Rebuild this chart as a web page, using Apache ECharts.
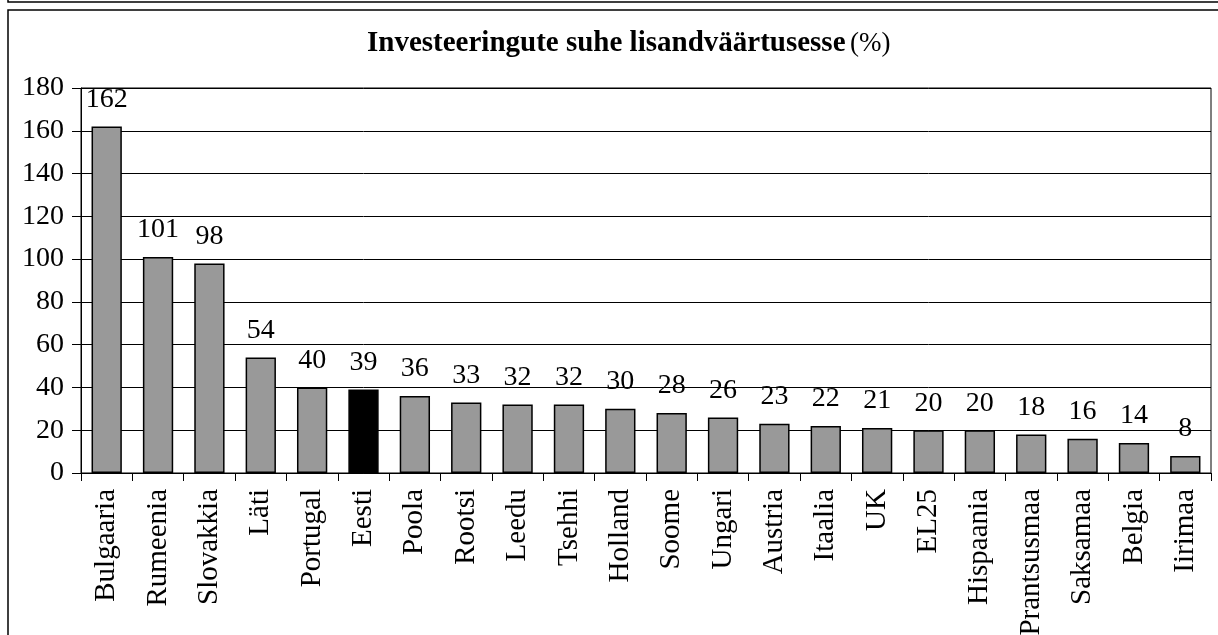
<!DOCTYPE html>
<html>
<head>
<meta charset="utf-8">
<title>Investeeringute suhe lisandväärtusesse</title>
<script src="https://cdn.jsdelivr.net/npm/echarts@6/dist/echarts.min.js"></script>
<style>
  html, body { margin: 0; padding: 0; background: #fff; }
  #chart { width: 1218px; height: 635px; }
</style>
</head>
<body>
<div id="chart"></div>
<script>
// riigid ja väärtused (%)
const countries = ['Bulgaaria', 'Rumeenia', 'Slovakkia', 'Läti', 'Portugal', 'Eesti', 'Poola', 'Rootsi',
  'Leedu', 'Tsehhi', 'Holland', 'Soome', 'Ungari', 'Austria', 'Itaalia', 'UK', 'EL25', 'Hispaania',
  'Prantsusmaa', 'Saksamaa', 'Belgia', 'Iirimaa']
const values = [162, 101, 98, 54, 40, 39, 36, 33, 32, 32, 30, 28, 26, 23, 22, 21, 20, 20, 18, 16, 14, 8]
const highlight = 'Eesti'

const serif = '"Liberation Serif", "Times New Roman", serif'

const chart = echarts.init(document.getElementById('chart'))

const option = {
  animation: false,
  textStyle: { fontFamily: serif, color: '#000' },
  title: {
    text: '{b|Investeeringute suhe lisandväärtusesse} {n|(%)}',
    left: 362,
    top: 24,
    textStyle: {
      rich: {
        b: { fontFamily: serif, fontWeight: 'bold', fontSize: 29, color: '#000' },
        n: { fontFamily: serif, fontWeight: 'normal', fontSize: 27, color: '#000' }
      }
    }
  },
  // raamid
  graphic: [
    { type: 'rect', shape: { x: 8, y: -20, width: 1240, height: 22 }, style: { fill: 'none', stroke: '#000', lineWidth: 1.5 } },
    { type: 'rect', shape: { x: 8, y: 10, width: 1240, height: 660 }, style: { fill: 'none', stroke: '#000', lineWidth: 1.5 } }
  ],
  grid: {
    left: 81,
    right: 7,
    top: 88,
    bottom: 162,
    outerBoundsMode: 'none',
    show: true,
    borderColor: '#000',
    borderWidth: 1
  },
  xAxis: {
    type: 'category',
    data: countries,
    axisLine: { lineStyle: { color: '#000', width: 1 } },
    axisTick: { show: true, length: 8, lineStyle: { color: '#000' } },
    axisLabel: {
      rotate: 90,
      interval: 0,
      margin: 16,
      fontSize: 29,
      fontFamily: serif,
      color: '#000'
    }
  },
  yAxis: {
    type: 'value',
    min: 0,
    max: 180,
    interval: 20,
    axisLine: { show: true, lineStyle: { color: '#000', width: 1 } },
    axisTick: { show: true, length: 9, lineStyle: { color: '#000' } },
    axisLabel: { margin: 17, fontSize: 28, fontFamily: serif, color: '#000' },
    splitLine: { lineStyle: { color: '#000', width: 1 } }
  },
  series: [
    {
      type: 'bar',
      barCategoryGap: '41%',
      data: values.map((v, i) => ({
        value: v,
        itemStyle: { color: countries[i] === highlight ? '#000' : '#999999' }
      })),
      itemStyle: { borderColor: '#000', borderWidth: 1.5 },
      label: {
        show: true,
        position: 'top',
        distance: 13,
        fontSize: 28,
        fontFamily: serif,
        color: '#000'
      }
    }
  ]
}

chart.setOption(option)
</script>
</body>
</html>
